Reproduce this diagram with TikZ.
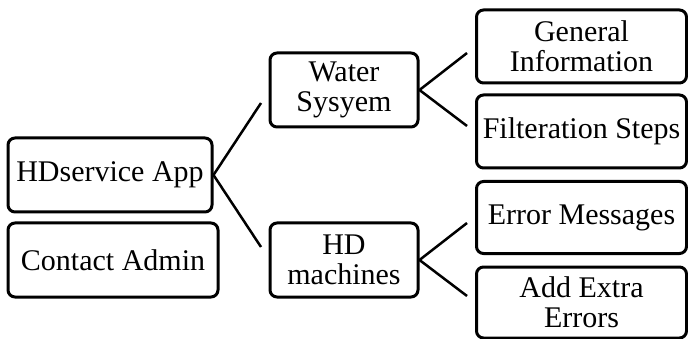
\documentclass[tikz,border=0pt]{standalone}
\usepackage{fontspec}
\setmainfont{Liberation Serif}
\begin{document}
\begin{tikzpicture}[x=1pt,y=-1pt,
  box/.style={draw=black,line width=3pt,rounded corners=7pt,inner sep=0pt,align=center,
    font=\fontsize{30}{30}\selectfont},
  link/.style={draw=black,line width=2.5pt}]
\useasboundingbox (0,0) rectangle (688,339);
\node[box,minimum width=204pt,minimum height=74pt] (app) at (110,175) {HDservice App};
\node[box,minimum width=210pt,minimum height=74pt] (contact) at (113,260) {Contact Admin};
\node[box,minimum width=148pt,minimum height=74pt] (water) at (344,90) {Water\\Sysyem};
\node[box,minimum width=148pt,minimum height=74pt] (hd) at (344,260) {HD\\machines};
\node[box,minimum width=210pt,minimum height=73pt] (gen) at (581.5,46.5) {General\\Information};
\node[box,minimum width=210pt,minimum height=73pt] (filt) at (581.5,131.5) {Filteration Steps};
\node[box,minimum width=210pt,minimum height=72pt] (err) at (581.5,217.5) {Error Messages};
\node[box,minimum width=210pt,minimum height=71pt] (add) at (581.5,302.5) {Add Extra\\Errors};
\coordinate (c1) at (261,103);
\coordinate (c2) at (261,247);
\coordinate (c3) at (467,53);
\coordinate (c4) at (467,126);
\coordinate (c5) at (467,223);
\coordinate (c6) at (467,296);
\draw[link] (c1) -- (app.east) -- (c2);
\draw[link] (c3) -- (water.east) -- (c4);
\draw[link] (c5) -- (hd.east) -- (c6);
\end{tikzpicture}
\end{document}
